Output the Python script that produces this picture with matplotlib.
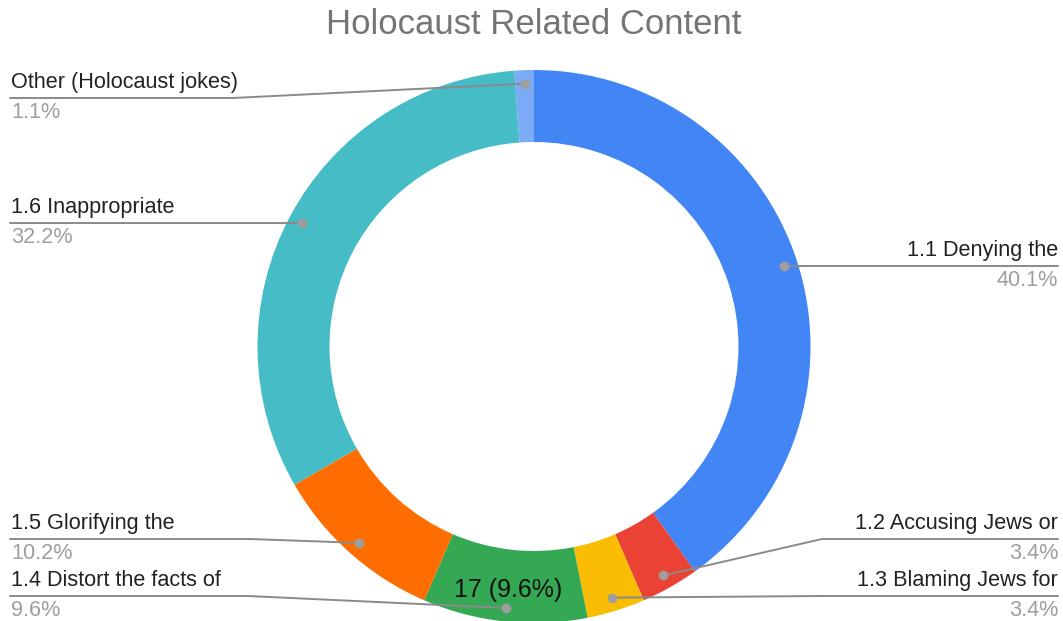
import numpy as np
import matplotlib.pyplot as plt

# Categorias y conteos (sentido horario desde arriba)
categorias = [
    "1.1 Denying the",
    "1.2 Accusing Jews or",
    "1.3 Blaming Jews for",
    "1.4 Distort the facts of",
    "1.5 Glorifying the",
    "1.6 Inappropriate",
    "Other (Holocaust jokes)",
]
conteos = [71, 6, 6, 17, 18, 57, 2]
colores = ["#4285F4", "#EA4335", "#FBBC04", "#34A853", "#FF6D01", "#46BDC6", "#7BAAF7"]

# Ubicacion de cada etiqueta externa: lado, altura de la linea guia, x del quiebre
lado = ["right", "right", "right", "left", "left", "left", "left"]
linea_y = [266, 539, 596, 596, 539, 223, 98]
quiebre_x = [None, 822, 820, 248, 250, None, 233]

fuente = "Liberation Sans"
W, H = 1063, 621
cx, cy = 534, 346.5
R_ext, ancho = 276.5, 72

fig = plt.figure(figsize=(W / 100, H / 100), dpi=100)
ax = fig.add_axes([0, 0, 1, 1])

total = sum(conteos)
porcentajes = [c / total * 100 for c in conteos]

# Eje con y invertida: startangle=-90 y counterclock=True gira en sentido horario visual
ax.pie(conteos, colors=colores, startangle=-90, counterclock=True,
       radius=R_ext, center=(cx, cy),
       wedgeprops=dict(width=ancho, linewidth=0))
ax.set_xlim(0, W)
ax.set_ylim(H, 0)
ax.set_aspect("equal")
ax.axis("off")

ax.text(cx, 24, "Holocaust Related Content", ha="center", va="center",
        fontsize=25, color="#757575", family=fuente)

fracs = np.cumsum([0] + conteos) / total
gris_linea = "#8a8a8a"
r_punto = 263
for i, nombre in enumerate(categorias):
    ang = np.deg2rad(-90 + 360 * (fracs[i] + fracs[i + 1]) / 2)
    px = cx + r_punto * np.cos(ang)
    py = cy + r_punto * np.sin(ang)
    ly = linea_y[i]
    if lado[i] == "right":
        x_fin, x_txt, ha = 1058, 1058, "right"
    else:
        x_fin, x_txt, ha = 10, 11, "left"
    xs = [px]
    ys = [py]
    if quiebre_x[i] is not None:
        xs.append(quiebre_x[i])
        ys.append(ly)
    else:
        ys[0] = ly
    xs.append(x_fin)
    ys.append(ly)
    ax.plot(xs, ys, color=gris_linea, lw=1.4, solid_capstyle="round", zorder=3)
    ax.plot(px, py, "o", ms=7, color="#9e9e9e", mec="none", zorder=4)
    ax.text(x_txt, ly - 5, nombre, ha=ha, va="bottom", fontsize=15.6,
            color="#222222", family=fuente)
    ax.text(x_txt, ly + 4, f"{porcentajes[i]:.1f}%", ha=ha, va="top", fontsize=15.6,
            color="#9e9e9e", family=fuente)

# Etiqueta dentro del segmento 1.4
i = 3
ang = np.deg2rad(-90 + 360 * (fracs[i] + fracs[i + 1]) / 2)
r_mid = R_ext - ancho / 2
ax.text(cx + r_mid * np.cos(ang), cy + r_mid * np.sin(ang) + 4,
        f"{conteos[i]} ({porcentajes[i]:.1f}%)", ha="center", va="center",
        fontsize=18, color="#111111", family=fuente)

fig.savefig("out.png", dpi=100)
